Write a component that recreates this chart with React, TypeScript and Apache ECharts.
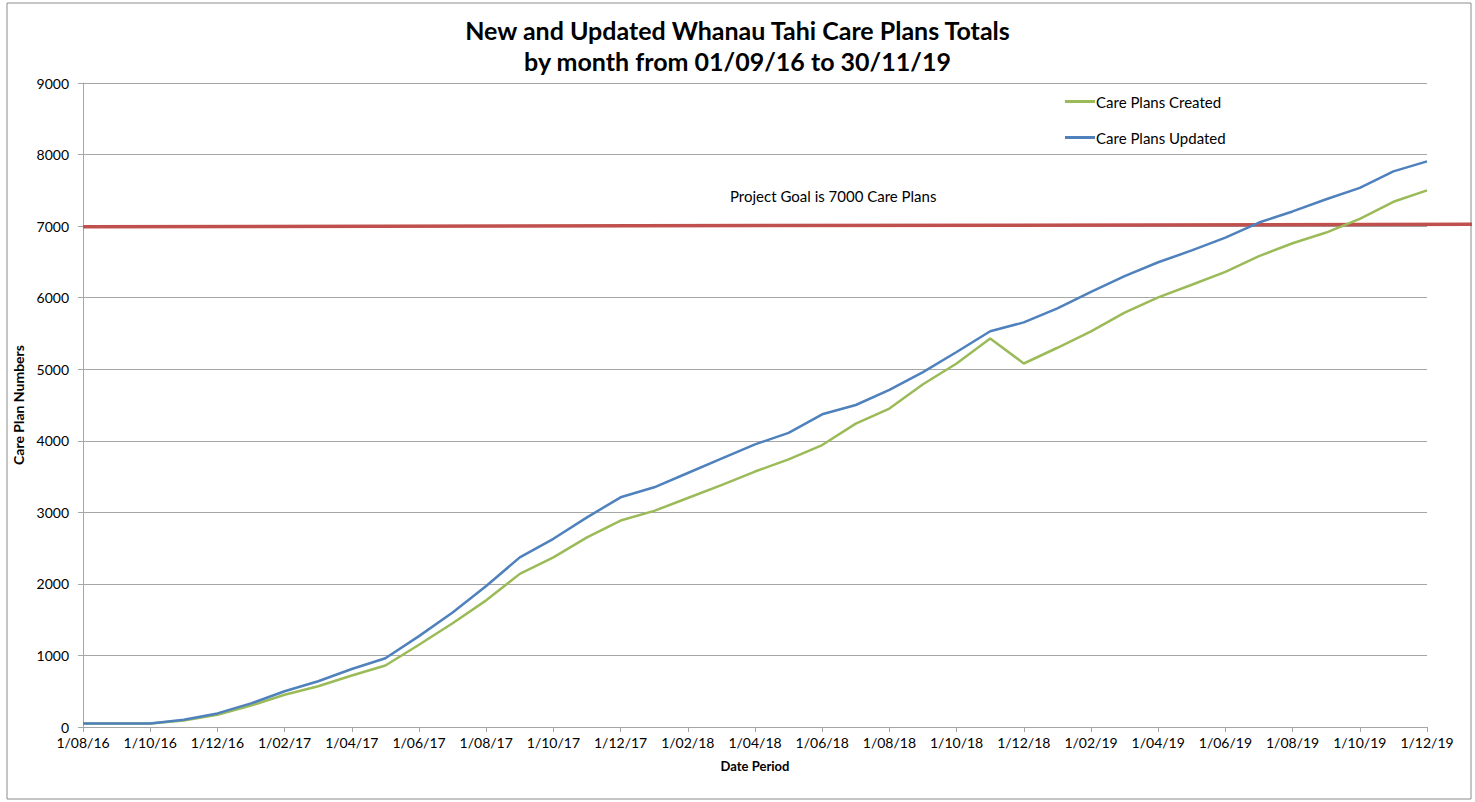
import React, { useEffect, useRef } from "react";
import * as echarts from "echarts";

const months: string[] = [
  "1/08/16", "1/09/16", "1/10/16", "1/11/16", "1/12/16",
  "1/01/17", "1/02/17", "1/03/17", "1/04/17", "1/05/17", "1/06/17", "1/07/17", "1/08/17", "1/09/17", "1/10/17", "1/11/17", "1/12/17",
  "1/01/18", "1/02/18", "1/03/18", "1/04/18", "1/05/18", "1/06/18", "1/07/18", "1/08/18", "1/09/18", "1/10/18", "1/11/18", "1/12/18",
  "1/01/19", "1/02/19", "1/03/19", "1/04/19", "1/05/19", "1/06/19", "1/07/19", "1/08/19", "1/09/19", "1/10/19", "1/11/19", "1/12/19",
];

const created: number[] = [
  50, 50, 50, 90, 170,
  300, 450, 570, 720, 860, 1150, 1450, 1770, 2140, 2370, 2650, 2885,
  3020, 3200, 3380, 3570, 3740, 3940, 4240, 4450, 4790, 5080, 5430, 5080,
  5300, 5530, 5790, 6005, 6180, 6360, 6580, 6760, 6910, 7100, 7340, 7500,
];

const updated: number[] = [
  50, 50, 50, 100, 190,
  330, 500, 640, 810, 960, 1270, 1600, 1970, 2370, 2630, 2930, 3210,
  3350, 3550, 3750, 3950, 4110, 4370, 4500, 4710, 4960, 5240, 5530, 5655,
  5850, 6080, 6300, 6495, 6660, 6840, 7050, 7205, 7375, 7535, 7765, 7905,
];

const goalLine: [number, number][] = [[0, 6990], [1, 7025]];

const yTicks = { min: 0, max: 9000, interval: 1000 };

const FONT = "Lato, 'Liberation Sans', sans-serif";

export default function App() {
  const ref = useRef<HTMLDivElement>(null);
  useEffect(() => {
    if (!ref.current) return;
    const chart = echarts.init(ref.current, undefined, { renderer: "svg" });
    chart.setOption({
      animation: false,
      backgroundColor: "#ffffff",
      textStyle: { fontFamily: FONT },
      title: {
        text: "New and Updated Whanau Tahi Care Plans Totals\nby month from 01/09/16 to 30/11/19",
        left: "center",
        top: 9,
        textStyle: { fontFamily: FONT, fontSize: 25, fontWeight: "bold", color: "#000", lineHeight: 31 },
      },
      legend: {
        orient: "vertical",
        left: 1060,
        top: 89,
        itemGap: 21,
        itemWidth: 30,
        itemHeight: 3,
        icon: "rect",
        data: ["Care Plans Created", "Care Plans Updated"],
        textStyle: { fontFamily: FONT, fontSize: 15, color: "#000", padding: [0, 0, 0, -4] },
      },
      graphic: [
        {
          type: "rect",
          shape: { x: 7, y: 3, width: 1464, height: 796 },
          style: { fill: "none", stroke: "#8c8c8c", lineWidth: 1 },
          silent: true,
        },
        {
          type: "text",
          left: 730,
          top: 188,
          style: { text: "Project Goal is 7000 Care Plans", fontFamily: FONT, fontSize: 15, fill: "#000" },
        },
      ],
      grid: [
        { left: 83, right: 48, top: 83, bottom: 75 },
        { left: 83, right: 3, top: 83, bottom: 75 },
      ],
      xAxis: [
        {
          type: "category",
          gridIndex: 0,
          data: months,
          boundaryGap: false,
          name: "Date Period",
          nameLocation: "middle",
          nameGap: 32,
          nameTextStyle: { fontFamily: FONT, fontSize: 13, fontWeight: "bold", color: "#000" },
          axisLine: { lineStyle: { color: "#a6a6a6", width: 1 } },
          axisTick: { show: true, interval: 1, length: 5, lineStyle: { color: "#a6a6a6" } },
          axisLabel: { interval: 1, margin: 8, fontFamily: FONT, fontSize: 14, color: "#000" },
          splitLine: { show: false },
        },
        { type: "value", gridIndex: 1, min: 0, max: 1, show: false },
      ],
      yAxis: [
        {
          type: "value",
          gridIndex: 0,
          min: yTicks.min,
          max: yTicks.max,
          interval: yTicks.interval,
          name: "Care Plan Numbers",
          nameLocation: "middle",
          nameGap: 44,
          nameTextStyle: { fontFamily: FONT, fontSize: 14, fontWeight: "bold", color: "#000" },
          axisLine: { show: true, lineStyle: { color: "#a6a6a6", width: 1 } },
          axisTick: { show: true, length: 5, lineStyle: { color: "#a6a6a6" } },
          axisLabel: {
            margin: 14,
            fontFamily: FONT,
            fontSize: 14,
            color: "#000",
            formatter: (v: number) => String(v),
          },
          splitLine: { show: true, lineStyle: { color: "#a6a6a6", width: 1 } },
        },
        { type: "value", gridIndex: 1, min: yTicks.min, max: yTicks.max, show: false },
      ],
      series: [
        {
          name: "Project Goal",
          type: "line",
          xAxisIndex: 1,
          yAxisIndex: 1,
          data: goalLine,
          showSymbol: false,
          lineStyle: { color: "#c0504d", width: 3.5 },
          itemStyle: { color: "#c0504d" },
          z: 1,
        },
        {
          name: "Care Plans Created",
          type: "line",
          data: created,
          showSymbol: false,
          lineStyle: { color: "#9bbb59", width: 2.5 },
          itemStyle: { color: "#9bbb59" },
          z: 3,
        },
        {
          name: "Care Plans Updated",
          type: "line",
          data: updated,
          showSymbol: false,
          lineStyle: { color: "#4f81bd", width: 2.5 },
          itemStyle: { color: "#4f81bd" },
          z: 4,
        },
      ],
    });
    return () => chart.dispose();
  }, []);
  return (
    <div
      ref={ref}
      style={{ position: "fixed", left: 0, top: 0, width: 1475, height: 802 }}
    />
  );
}
